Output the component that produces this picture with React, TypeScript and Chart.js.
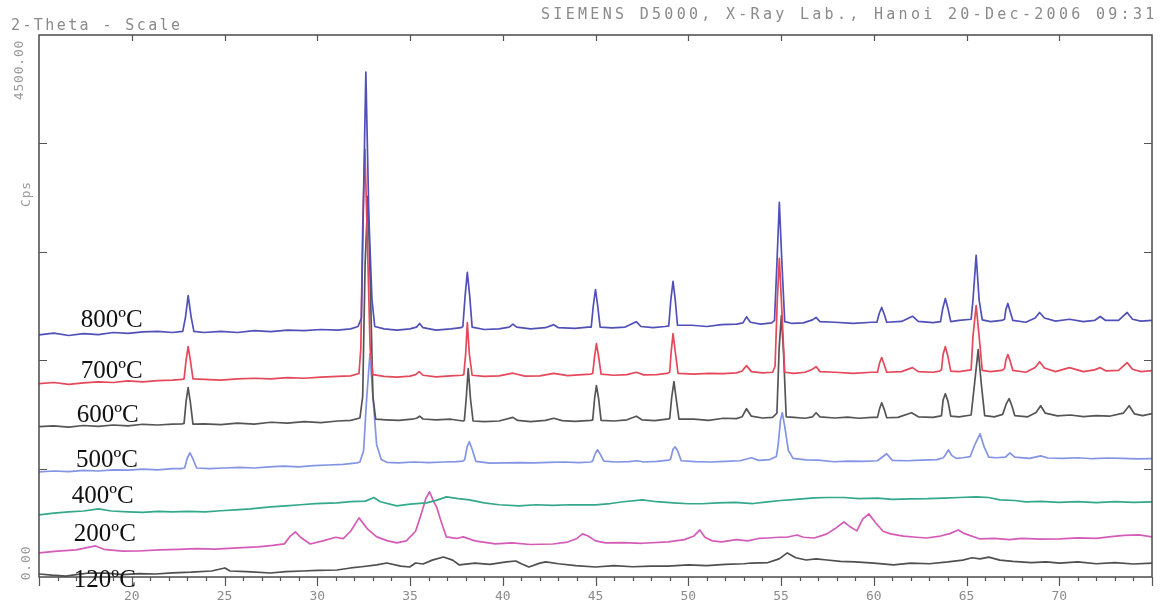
import React, { useEffect, useRef } from "react";
import { Chart, registerables } from "chart.js";

Chart.register(...registerables);

// ---- data (2-theta in degrees, intensity in Cps) ----
const SERIES_NAMES = ["800ºC", "700ºC", "600ºC", "500ºC", "400ºC", "200ºC", "120ºC"];
const X_TICK_LABELS = [20, 25, 30, 35, 40, 45, 50, 55, 60, 65, 70];
const Y_TICK_VALUES = [900, 1800, 2700, 3600];
const Y_END_LABELS = ["0.00", "4500.00"];
const HEADER_LEFT = "2-Theta - Scale";
const HEADER_RIGHT = "SIEMENS D5000, X-Ray Lab., Hanoi 20-Dec-2006 09:31";
const Y_TITLE = "Cps";

const S800: [number, number][] = [
  [15, 2010], [15.8, 2025], [16.6, 2005], [17.4, 2020], [18.2, 2012], [19, 2030], [19.8, 2022], [20.6, 2035], [21.4, 2040], [22.2, 2030], [22.6, 2038],
  [22.75, 2040], [22.9, 2160], [23.04, 2337], [23.2, 2160], [23.35, 2040], [23.9, 2030], [24.8, 2040], [25.7, 2030], [26.6, 2045], [27.5, 2038],
  [28.4, 2050], [29.3, 2045], [30.2, 2055], [31.1, 2050], [31.8, 2060], [32.2, 2080], [32.38, 2150], [32.5, 3200], [32.62, 4192], [32.78, 3000],
  [32.95, 2300], [33.1, 2080], [33.6, 2060], [34.3, 2050], [35, 2060], [35.35, 2075], [35.52, 2105], [35.7, 2070], [36.4, 2050], [37.2, 2060],
  [37.75, 2070], [37.85, 2080], [37.97, 2330], [38.09, 2529], [38.22, 2330], [38.35, 2075], [39, 2055], [39.8, 2060], [40.35, 2075], [40.55, 2100],
  [40.75, 2075], [41.5, 2060], [42.3, 2070], [42.75, 2095], [43, 2070], [43.9, 2065], [44.6, 2075], [44.77, 2075], [44.88, 2250], [45, 2387],
  [45.12, 2250], [45.25, 2075], [45.9, 2068], [46.6, 2075], [47.2, 2120], [47.45, 2080], [48.1, 2070], [48.75, 2080], [48.95, 2085], [49.06, 2300],
  [49.18, 2454], [49.3, 2300], [49.42, 2090], [50.2, 2090], [51, 2080], [51.8, 2095], [52.6, 2100], [52.95, 2110], [53.14, 2160], [53.35, 2115],
  [53.9, 2100], [54.5, 2110], [54.65, 2130], [54.78, 2600], [54.91, 3111], [55.05, 2600], [55.2, 2120], [55.6, 2105], [56.2, 2110], [56.7, 2135],
  [56.89, 2155], [57.1, 2120], [57.9, 2115], [58.9, 2105], [59.9, 2115], [60.17, 2115], [60.3, 2190], [60.43, 2238], [60.57, 2180], [60.7, 2115],
  [61.5, 2122], [62.09, 2165], [62.4, 2122], [63.2, 2112], [63.6, 2120], [63.72, 2230], [63.86, 2312], [64, 2230], [64.15, 2120], [64.6, 2130],
  [65.25, 2140], [65.35, 2300], [65.52, 2670], [65.68, 2300], [65.85, 2135], [66.3, 2120], [66.9, 2130], [67.05, 2140], [67.12, 2220], [67.23, 2271],
  [67.36, 2200], [67.5, 2130], [68.2, 2115], [68.7, 2150], [68.94, 2196], [69.2, 2150], [69.8, 2125], [70.55, 2140], [71.3, 2120], [71.9, 2130],
  [72.21, 2163], [72.5, 2130], [73.2, 2130], [73.4, 2160], [73.66, 2196], [73.95, 2140], [74.4, 2125], [75, 2130],
];

const S700: [number, number][] = [
  [15, 1605], [15.8, 1615], [16.6, 1600], [17.4, 1612], [18.2, 1620], [19, 1615], [19.8, 1628], [20.6, 1620], [21.4, 1630], [22.2, 1635], [22.7, 1640],
  [22.82, 1645], [22.93, 1800], [23.04, 1913], [23.16, 1800], [23.3, 1645], [23.9, 1640], [24.8, 1635], [25.7, 1645], [26.6, 1650], [27.5, 1645],
  [28.4, 1655], [29.3, 1650], [30.2, 1660], [31.1, 1665], [31.8, 1670], [32.25, 1690], [32.35, 1900], [32.45, 2900], [32.57, 3552], [32.7, 2800],
  [32.85, 1900], [33, 1680], [33.6, 1665], [34.3, 1660], [35, 1668], [35.3, 1680], [35.5, 1705], [35.7, 1675], [36.4, 1662], [37.2, 1670],
  [37.8, 1675], [37.9, 1680], [38, 1850], [38.09, 2113], [38.2, 1850], [38.35, 1675], [39, 1665], [39.8, 1670], [40.55, 1692], [41.2, 1668],
  [42, 1670], [42.75, 1690], [43.5, 1672], [44.3, 1680], [44.75, 1685], [44.85, 1690], [44.95, 1830], [45.05, 1938], [45.17, 1830], [45.3, 1685],
  [46, 1675], [46.7, 1680], [47.2, 1700], [47.6, 1678], [48.3, 1680], [48.85, 1690], [49, 1700], [49.08, 1870], [49.18, 2021], [49.3, 1870],
  [49.45, 1690], [50.3, 1685], [51.1, 1690], [51.9, 1688], [52.6, 1695], [52.9, 1710], [53.14, 1755], [53.4, 1705], [54, 1695], [54.55, 1700],
  [54.68, 1750], [54.8, 2300], [54.91, 2645], [55.05, 2200], [55.2, 1700], [55.7, 1690], [56.3, 1700], [56.7, 1725], [56.89, 1747], [57.1, 1705],
  [57.9, 1700], [58.9, 1690], [59.9, 1700], [60.2, 1700], [60.32, 1780], [60.43, 1822], [60.57, 1760], [60.7, 1700], [61.5, 1705], [62.09, 1738],
  [62.4, 1705], [63.2, 1700], [63.55, 1710], [63.65, 1720], [63.74, 1850], [63.86, 1913], [64, 1830], [64.15, 1710], [64.6, 1705], [65.25, 1720],
  [65.35, 2000], [65.52, 2254], [65.68, 2000], [65.85, 1715], [66.3, 1705], [66.9, 1715], [67.05, 1730], [67.12, 1800], [67.23, 1847], [67.36, 1790],
  [67.5, 1715], [68.2, 1700], [68.7, 1740], [68.94, 1788], [69.2, 1735], [69.8, 1705], [70.55, 1738], [71.3, 1705], [71.9, 1720], [72.21, 1738],
  [72.5, 1712], [73.2, 1715], [73.45, 1750], [73.66, 1780], [73.95, 1725], [74.4, 1705], [75, 1714],
];

const S600: [number, number][] = [
  [15, 1248], [15.8, 1255], [16.6, 1245], [17.4, 1258], [18.2, 1250], [19, 1262], [19.8, 1255], [20.6, 1268], [21.4, 1262], [22.2, 1270], [22.7, 1272],
  [22.82, 1275], [22.93, 1460], [23.04, 1572], [23.16, 1450], [23.3, 1270], [23.9, 1272], [24.8, 1265], [25.7, 1278], [26.6, 1270], [27.5, 1285],
  [28.4, 1278], [29.3, 1290], [30.2, 1282], [31.1, 1295], [31.8, 1300], [32.3, 1320], [32.45, 1500], [32.58, 2600], [32.73, 3161], [32.85, 2500],
  [33, 1500], [33.15, 1310], [33.7, 1305], [34.4, 1300], [35.1, 1310], [35.35, 1318], [35.52, 1335], [35.7, 1312], [36.4, 1305], [37.2, 1310],
  [37.85, 1295], [37.93, 1300], [38.03, 1480], [38.14, 1730], [38.26, 1480], [38.4, 1295], [39, 1290], [39.8, 1295], [40.55, 1325], [40.8, 1300],
  [41.5, 1290], [42.3, 1300], [42.75, 1318], [43.2, 1298], [43.9, 1292], [44.75, 1300], [44.85, 1305], [44.95, 1480], [45.05, 1589], [45.17, 1480],
  [45.3, 1300], [46, 1295], [46.7, 1305], [47.2, 1335], [47.5, 1305], [48.2, 1298], [48.85, 1310], [49, 1315], [49.1, 1480], [49.23, 1622],
  [49.35, 1480], [49.5, 1310], [50.3, 1310], [51.1, 1300], [51.9, 1318], [52.6, 1315], [52.9, 1330], [53.14, 1397], [53.4, 1335], [54, 1320],
  [54.55, 1325], [54.78, 1360], [54.9, 1900], [55.02, 2171], [55.14, 1850], [55.28, 1330], [55.7, 1325], [56.3, 1318], [56.7, 1330], [56.89, 1364],
  [57.1, 1330], [57.9, 1320], [58.6, 1328], [59.2, 1318], [59.9, 1325], [60.2, 1325], [60.32, 1400], [60.43, 1447], [60.57, 1390], [60.7, 1322],
  [61.3, 1325], [62.04, 1364], [62.4, 1330], [63.2, 1325], [63.55, 1335], [63.65, 1340], [63.74, 1470], [63.86, 1522], [64, 1460], [64.15, 1335],
  [64.6, 1330], [65.25, 1345], [65.43, 1600], [65.63, 1888], [65.8, 1600], [65.98, 1340], [66.5, 1330], [66.95, 1350], [67.15, 1440], [67.3, 1481],
  [67.45, 1420], [67.6, 1340], [68.3, 1330], [68.75, 1365], [69, 1422], [69.25, 1360], [69.9, 1338], [70.6, 1345], [71.3, 1332], [72, 1340],
  [72.7, 1335], [73.45, 1360], [73.77, 1422], [74.05, 1355], [74.5, 1340], [75, 1356],
];

const S500: [number, number][] = [
  [15, 872], [15.8, 880], [16.6, 875], [17.4, 885], [18.2, 880], [19, 890], [19.8, 888], [20.6, 895], [21.4, 890], [22.2, 900], [22.65, 900],
  [22.85, 905], [23, 990], [23.14, 1031], [23.3, 980], [23.5, 905], [24.2, 900], [25, 905], [25.8, 910], [26.6, 905], [27.4, 915], [28.2, 920],
  [29, 915], [29.8, 925], [30.6, 930], [31.4, 935], [32.14, 948], [32.3, 955], [32.5, 1050], [32.65, 1450], [32.84, 1855], [33, 1500],
  [33.2, 1100], [33.45, 975], [33.75, 952], [34.4, 948], [35.2, 955], [36, 950], [36.8, 955], [37.5, 958], [37.85, 962], [37.95, 975],
  [38.08, 1080], [38.2, 1123], [38.35, 1060], [38.55, 960], [39.3, 945], [40.1, 948], [40.9, 950], [41.7, 948], [42.5, 952], [43.3, 955],
  [44.1, 950], [44.75, 955], [44.85, 965], [45, 1030], [45.11, 1056], [45.25, 1020], [45.45, 962], [46.1, 955], [46.8, 958], [47.25, 965],
  [47.6, 955], [48.3, 960], [48.95, 970], [49.05, 980], [49.18, 1060], [49.29, 1081], [49.42, 1050], [49.62, 965], [50.4, 958], [51.2, 955],
  [52, 960], [52.8, 965], [53.41, 990], [53.8, 968], [54.4, 975], [54.75, 1000], [54.85, 1100], [54.97, 1300], [55.07, 1364], [55.2, 1250],
  [55.4, 1050], [55.65, 985], [56.36, 973], [57, 970], [57.86, 957], [58.6, 962], [59.4, 960], [60.2, 965], [60.7, 1023], [61, 968],
  [61.8, 965], [62.6, 970], [63.4, 975], [63.75, 990], [63.85, 1010], [64.02, 1056], [64.2, 1010], [64.45, 985], [64.82, 990], [65.2, 1000],
  [65.45, 1100], [65.73, 1189], [65.95, 1080], [66.2, 995], [66.59, 990], [67.1, 995], [67.34, 1031], [67.6, 995], [68.4, 985], [69, 1006],
  [69.4, 988], [70.2, 985], [71, 990], [71.8, 982], [72.6, 988], [73.4, 985], [74.2, 980], [75, 982],
];

const S400: [number, number][] = [
  [15, 516], [15.8, 530], [16.6, 540], [17.4, 548], [18.21, 566], [18.9, 548], [19.8, 541], [20.6, 536], [21.4, 545], [22.2, 540], [23, 545],
  [23.95, 541], [24.8, 550], [25.6, 558], [26.4, 566], [27.48, 582], [28.3, 590], [29.1, 600], [29.9, 610], [31.07, 616], [31.8, 625], [32.6, 630],
  [33.05, 660], [33.4, 625], [34.29, 591], [35, 605], [35.89, 616], [36.5, 640], [36.96, 665], [37.6, 650], [38.2, 641], [39, 615], [39.8, 600],
  [40.87, 591], [41.8, 600], [42.7, 595], [43.6, 600], [45, 599], [45.8, 610], [46.5, 625], [47.52, 641], [48.3, 625], [49.2, 616], [50, 608],
  [50.73, 608], [51.6, 615], [52.5, 620], [53.5, 610], [54.27, 624], [55, 635], [55.8, 645], [56.79, 657], [57.5, 660], [58.39, 660], [59.2, 650],
  [60.2, 655], [61, 645], [61.98, 649], [62.9, 650], [63.8, 655], [64.6, 660], [65.52, 666], [66.2, 660], [66.8, 640], [67.6, 635], [68.2, 624],
  [69, 628], [70, 620], [71, 626], [72, 618], [73, 625], [74, 620], [75, 624],
];

const S200: [number, number][] = [
  [15, 200], [16, 215], [17, 225], [18.05, 258], [18.5, 230], [19.5, 215], [20.36, 216], [21.5, 225], [22.5, 230], [23.5, 235], [24.5, 232],
  [25.71, 241], [26.8, 250], [27.6, 262], [28.23, 275], [28.55, 340], [28.82, 374], [29.1, 330], [29.62, 274], [30.3, 300], [31, 330],
  [31.4, 318], [31.8, 380], [32.25, 491], [32.7, 400], [33.21, 333], [33.8, 300], [34.29, 283], [34.8, 300], [35.3, 380], [35.6, 520],
  [35.85, 650], [36.05, 707], [36.3, 620], [36.43, 583], [36.7, 450], [36.96, 333], [37.5, 320], [37.87, 333], [38.5, 300], [39.6, 275],
  [40.5, 283], [41.5, 270], [42.7, 274], [43.5, 290], [44, 320], [44.3, 358], [44.6, 340], [45, 300], [45.54, 283], [46.5, 285], [47.5, 280],
  [48.91, 291], [49.8, 310], [50.3, 340], [50.62, 391], [50.9, 330], [51.3, 300], [51.8, 291], [52.6, 310], [53.2, 300], [53.8, 320],
  [54.27, 324], [54.9, 330], [55.3, 330], [55.87, 349], [56.2, 330], [56.79, 324], [57.48, 358], [57.9, 400], [58.39, 457], [58.7, 420],
  [59.09, 383], [59.4, 480], [59.73, 524], [60.1, 450], [60.5, 380], [60.91, 358], [61.6, 340], [62.3, 330], [62.84, 324], [63.6, 340],
  [64.1, 360], [64.55, 391], [64.9, 360], [65.73, 316], [66.5, 320], [67.3, 310], [68, 320], [69, 315], [70.02, 316], [71, 325], [72, 320],
  [72.8, 335], [73.5, 345], [74.3, 349], [75, 333],
];

const S120: [number, number][] = [
  [15, 25], [15.7, 15], [16.45, 8], [17, 20], [17.7, 33], [18.6, 33], [19.5, 20], [20.4, 28], [21.27, 25], [22.2, 35], [23.2, 40], [24.3, 50],
  [25.02, 75], [25.3, 50], [26.2, 45], [27.48, 33], [28.3, 45], [29.2, 50], [30, 55], [31.07, 58], [31.8, 75], [32.4, 85], [33.2, 100],
  [33.75, 116], [34.5, 90], [34.98, 83], [35.3, 116], [35.7, 108], [36.2, 140], [36.8, 166], [37.3, 140], [37.66, 100], [38.5, 115],
  [39.3, 105], [40.2, 125], [40.71, 133], [41, 110], [41.41, 83], [42, 115], [42.32, 125], [43, 110], [43.93, 95], [45, 83], [46, 95],
  [47, 85], [48, 90], [48.91, 91], [50, 100], [51, 95], [52, 105], [53, 110], [53.41, 116], [54.3, 120], [54.9, 150], [55.34, 200],
  [55.8, 160], [56.36, 141], [56.9, 150], [57.48, 141], [58.2, 130], [59, 125], [60, 115], [61.07, 100], [62, 115], [63, 110], [64, 125],
  [64.8, 140], [65.3, 160], [65.73, 150], [66.2, 165], [66.8, 140], [67.5, 130], [68.5, 120], [69.3, 125], [70.02, 116], [71, 125],
  [72, 110], [73, 120], [74, 108], [75, 116],
];

const SERIES = [S800, S700, S600, S500, S400, S200, S120];
const COLORS = ["#5050b8", "#e4485a", "#555555", "#8494e4", "#34a88a", "#d45cb8", "#4f4f4f"];
// label anchors (2-theta, Cps) for the temperature captions
const LABEL_ANCHORS: [number, number][] = [
  [17.25, 2074], [17.25, 1649], [17.04, 1283], [16.99, 916], [16.77, 616], [16.88, 300], [16.88, -83],
];

const MONO = "'DejaVu Sans Mono', monospace";

const decorPlugin = {
  id: "decor",
  afterDatasetsDraw(chart: any) {
    const { ctx, chartArea: a, scales } = chart;
    const xs = scales.x;
    const ys = scales.y;
    ctx.save();
    // frame
    ctx.strokeStyle = "#4a4a4a";
    ctx.lineWidth = 1.5;
    ctx.strokeRect(a.left, a.top, a.right - a.left, a.bottom - a.top);
    // ticks
    ctx.lineWidth = 1.2;
    ctx.strokeStyle = "#555";
    ctx.beginPath();
    const xMin = xs.min;
    const xMax = xs.max;
    for (let v = xMin; v <= xMax; v += 1) {
      const px = Math.round(xs.getPixelForValue(v)) + 0.5;
      const major = v % 5 === 0;
      ctx.moveTo(px, a.bottom);
      ctx.lineTo(px, a.bottom + (major ? 9 : 4));
    }
    for (const t of X_TICK_LABELS) {
      const px = Math.round(xs.getPixelForValue(t)) + 0.5;
      ctx.moveTo(px, a.top);
      ctx.lineTo(px, a.top + 6);
    }
    for (const t of Y_TICK_VALUES) {
      const py = Math.round(ys.getPixelForValue(t)) + 0.5;
      ctx.moveTo(a.left, py);
      ctx.lineTo(a.left + 8, py);
      ctx.moveTo(a.right, py);
      ctx.lineTo(a.right - 8, py);
    }
    ctx.stroke();

    // headers
    ctx.fillStyle = "#8a8a8a";
    ctx.font = `15px ${MONO}`;
    ctx.textBaseline = "alphabetic";
    ctx.textAlign = "left";
    (ctx as any).letterSpacing = "2.4px";
    ctx.fillText(HEADER_LEFT, 11, 30);
    (ctx as any).letterSpacing = "3.3px";
    ctx.fillText(HEADER_RIGHT, 541, 19);

    // y labels (rotated)
    (ctx as any).letterSpacing = "0.8px";
    ctx.font = `13px ${MONO}`;
    ctx.fillStyle = "#9a9a9a";
    const rot = (text: string, cx: number, cy: number) => {
      ctx.save();
      ctx.translate(cx, cy);
      ctx.rotate(-Math.PI / 2);
      ctx.textAlign = "center";
      ctx.textBaseline = "middle";
      ctx.fillText(text, 0, 0);
      ctx.restore();
    };
    rot(Y_END_LABELS[1], 20, a.top + 35);
    rot(Y_END_LABELS[0], 27, a.bottom - 14);
    rot(Y_TITLE, 27, ys.getPixelForValue(3180));
    (ctx as any).letterSpacing = "0px";

    // temperature labels
    ctx.font = "25px 'Liberation Serif', 'Times New Roman', serif";
    ctx.fillStyle = "#111";
    ctx.textAlign = "left";
    ctx.textBaseline = "alphabetic";
    SERIES_NAMES.forEach((name, i) => {
      const [lx, ly] = LABEL_ANCHORS[i];
      ctx.fillText(name, xs.getPixelForValue(lx), ys.getPixelForValue(ly));
    });
    ctx.restore();
  },
};

export default function App() {
  const ref = useRef<HTMLCanvasElement | null>(null);
  useEffect(() => {
    if (!ref.current) return;
    const chart = new Chart(ref.current, {
      type: "line",
      data: {
        datasets: SERIES.map((s, i) => ({
          label: SERIES_NAMES[i],
          data: s.map(([x, y]) => ({ x, y })),
          borderColor: COLORS[i],
          backgroundColor: COLORS[i],
          borderWidth: 1.7,
          borderJoinStyle: "round",
          pointRadius: 0,
          tension: 0,
          fill: false,
        })),
      },
      options: {
        animation: false,
        responsive: false,
        devicePixelRatio: 1,
        layout: { padding: { top: 35, left: 39, right: 6, bottom: 0 } },
        plugins: { legend: { display: false }, tooltip: { enabled: false } },
        scales: {
          x: {
            type: "linear",
            min: 15,
            max: 75,
            afterFit: (s: any) => {
              s.height = 23;
            },
            grid: { display: false, drawTicks: false },
            border: { display: false },
            ticks: {
              stepSize: 5,
              autoSkip: false,
              maxRotation: 0,
              minRotation: 0,
              padding: 12,
              color: "#8c8c8c",
              font: { family: MONO, size: 13 },
              callback: (v: any) => (X_TICK_LABELS.includes(Number(v)) ? String(v) : ""),
            },
          },
          y: { display: false, min: 0, max: 4500 },
        },
      },
      plugins: [decorPlugin],
    } as any);
    return () => chart.destroy();
  }, []);
  return (
    <div style={{ position: "fixed", left: 0, top: 0, width: 1164, height: 600, overflow: "hidden", background: "#fff" }}>
      <canvas ref={ref} width={1164} height={600} style={{ display: "block" }} />
    </div>
  );
}
